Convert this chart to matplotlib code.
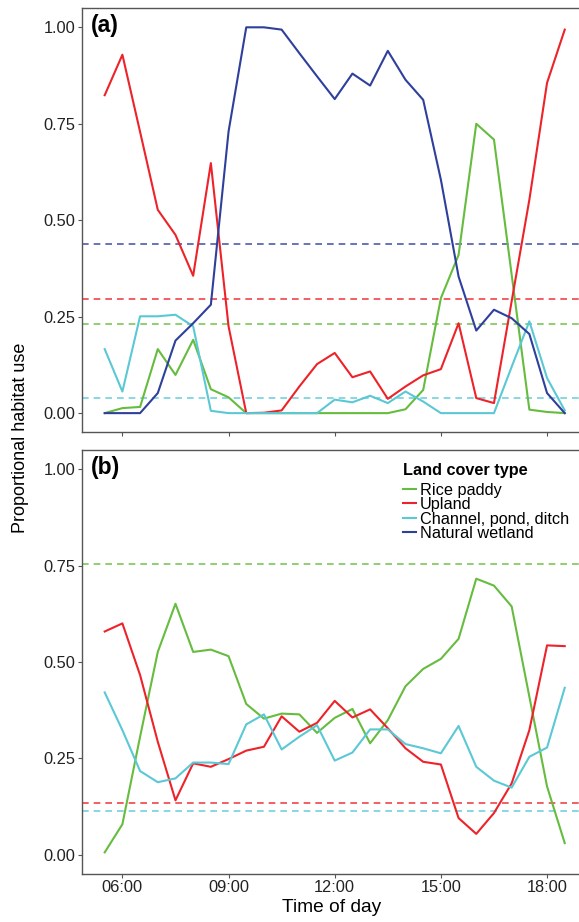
import matplotlib.pyplot as plt

plt.rcParams['font.family'] = ['Liberation Sans', 'DejaVu Sans']

# time of day in hours, every 30 min from 05:30 to 18:30
times = [5.5, 6.0, 6.5, 7.0, 7.5, 8.0, 8.5, 9.0, 9.5, 10.0, 10.5, 11.0, 11.5,
         12.0, 12.5, 13.0, 13.5, 14.0, 14.5, 15.0, 15.5, 16.0, 16.5, 17.0,
         17.5, 18.0, 18.5]

# panel (a)
a_rice = [0.0, 0.013, 0.016, 0.166, 0.099, 0.19, 0.062, 0.041, 0.0, 0.0, 0.0,
          0.0, 0.0, 0.0, 0.0, 0.0, 0.0, 0.01, 0.06, 0.298, 0.41, 0.75, 0.709,
          0.359, 0.009, 0.003, 0.0]
a_upland = [0.824, 0.929, 0.729, 0.527, 0.462, 0.356, 0.648, 0.225, 0.0, 0.001,
            0.007, 0.069, 0.127, 0.156, 0.093, 0.108, 0.037, 0.069, 0.098,
            0.114, 0.233, 0.039, 0.026, 0.29, 0.553, 0.856, 0.994]
a_channel = [0.166, 0.056, 0.251, 0.251, 0.255, 0.225, 0.006, 0.0, 0.0, 0.0,
             0.0, 0.0, 0.0, 0.035, 0.028, 0.045, 0.026, 0.056, 0.03, 0.0, 0.0,
             0.0, 0.0, 0.12, 0.238, 0.091, 0.007]
a_wetland = [0.0, 0.0, 0.0, 0.052, 0.188, 0.233, 0.281, 0.73, 1.0, 1.0, 0.994,
             0.933, 0.873, 0.814, 0.88, 0.849, 0.939, 0.864, 0.812, 0.605,
             0.354, 0.214, 0.268, 0.246, 0.205, 0.052, 0.0]
a_means = {'rice': 0.232, 'upland': 0.296, 'channel': 0.039, 'wetland': 0.438}

# panel (b)
b_rice = [0.006, 0.079, 0.306, 0.526, 0.651, 0.526, 0.532, 0.515, 0.391, 0.353,
          0.366, 0.364, 0.316, 0.355, 0.378, 0.289, 0.349, 0.437, 0.482, 0.508,
          0.56, 0.716, 0.698, 0.644, 0.41, 0.177, 0.03]
b_upland = [0.579, 0.6, 0.466, 0.293, 0.141, 0.237, 0.228, 0.248, 0.27, 0.28,
            0.359, 0.319, 0.342, 0.399, 0.356, 0.377, 0.328, 0.276, 0.241,
            0.234, 0.095, 0.054, 0.108, 0.185, 0.323, 0.543, 0.541]
b_channel = [0.421, 0.323, 0.217, 0.188, 0.198, 0.239, 0.239, 0.235, 0.338,
             0.364, 0.273, 0.306, 0.336, 0.244, 0.265, 0.325, 0.325, 0.287,
             0.276, 0.263, 0.334, 0.228, 0.192, 0.174, 0.254, 0.278, 0.433]
b_means = {'rice': 0.753, 'upland': 0.135, 'channel': 0.114}

xticks = [6, 9, 12, 15, 18]
xticklabels = ['06:00', '09:00', '12:00', '15:00', '18:00']
yticks = [0, 0.25, 0.5, 0.75, 1.0]

colors = {'rice': '#66BC3E', 'upland': '#EE2229', 'channel': '#5BC8D5',
          'wetland': '#2E3F9C'}
labels = {'rice': 'Rice paddy', 'upland': 'Upland',
          'channel': 'Channel, pond, ditch', 'wetland': 'Natural wetland'}

fig = plt.figure(figsize=(5.79, 9.22), dpi=100)
ax_a = fig.add_axes([0.1411, 0.531, 0.874, 0.4603])
ax_b = fig.add_axes([0.1411, 0.0521, 0.874, 0.4599])

series_a = {'rice': a_rice, 'upland': a_upland, 'channel': a_channel,
            'wetland': a_wetland}
series_b = {'rice': b_rice, 'upland': b_upland, 'channel': b_channel}

for ax, series, means, tag in [(ax_a, series_a, a_means, '(a)'),
                               (ax_b, series_b, b_means, '(b)')]:
    for key, vals in means.items():
        ax.axhline(vals, color=colors[key], lw=1.2, ls=(0, (4, 3)), alpha=0.85,
                   zorder=1)
    for key, vals in series.items():
        ax.plot(times, vals, color=colors[key], lw=1.5, zorder=2)
    ax.set_xlim(4.85, 19.15)
    ax.set_ylim(-0.05, 1.05)
    ax.set_xticks(xticks)
    ax.set_yticks(yticks)
    ax.set_yticklabels(['0.00', '0.25', '0.50', '0.75', '1.00'])
    for sp in ax.spines.values():
        sp.set_color('#555555')
        sp.set_linewidth(1.0)
    ax.tick_params(direction='out', length=3, width=0.8, color='#555555',
                   labelsize=11.8, labelcolor='#222222', pad=1.5)
    ax.text(0.018, 0.985, tag, transform=ax.transAxes, fontsize=16.5,
            fontweight='bold', va='top', ha='left')

ax_a.set_xticklabels([])
ax_b.set_xticklabels(xticklabels)
fig.text(0.5735, 0.0155, 'Time of day', fontsize=13.8, ha='center',
         va='center')
fig.text(0.036, 0.5255, 'Proportional habitat use', rotation=90, fontsize=13,
         ha='center', va='center')

handles = [plt.Line2D([], [], color=colors[k], lw=1.5) for k in
           ['rice', 'upland', 'channel', 'wetland']]
leg = ax_b.legend(handles, [labels[k] for k in ['rice', 'upland', 'channel',
                                                'wetland']],
                  title='Land cover type', loc='upper left',
                  bbox_to_anchor=(0.612, 0.995), frameon=False, fontsize=11.7,
                  handlelength=0.8, handletextpad=0.25, labelspacing=-0.03,
                  borderpad=0.2, alignment='left')
leg.get_title().set_fontweight('bold')
leg.get_title().set_fontsize(11.7)
leg._legend_box.sep = 3

fig.savefig('out.png', dpi=100)
